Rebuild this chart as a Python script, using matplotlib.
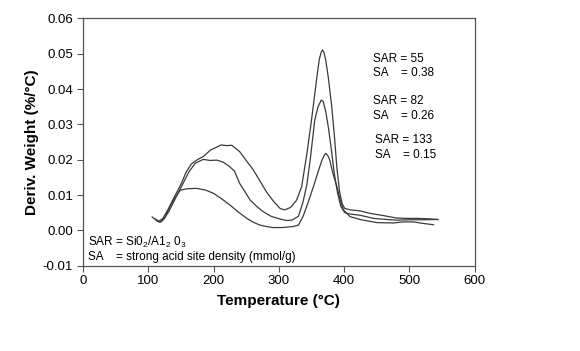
import numpy as np
import matplotlib
matplotlib.use('Agg')
import matplotlib.pyplot as plt

plt.rcParams['font.family'] = ['Liberation Sans', 'DejaVu Sans']
plt.rcParams['mathtext.fontset'] = 'custom'
plt.rcParams['mathtext.rm'] = 'Liberation Sans'
plt.rcParams['axes.unicode_minus'] = False

# SAR = 55 (tallest peak)
temp_55 = [106, 111, 116, 122, 130, 140, 150, 158, 166, 175, 185, 195, 205, 212, 220, 228,
           240, 250, 261, 271, 281, 292, 302, 309, 318, 327, 335, 343, 350, 358,
           362, 365, 367, 369, 372, 376, 381, 385, 389, 393, 397, 401, 410, 425, 440, 460,
           480, 495, 511, 527, 542]
deriv_55 = [0.0038, 0.0031, 0.0026, 0.0033, 0.0058, 0.0095, 0.0130, 0.0165, 0.0188, 0.0200,
            0.0210, 0.0227, 0.0236, 0.0242, 0.0240, 0.0241, 0.0223, 0.0198, 0.0171, 0.0140,
            0.0109, 0.0082, 0.0062, 0.0058, 0.0065, 0.0085, 0.0124, 0.0218, 0.0312, 0.0430,
            0.0485, 0.0505, 0.0511, 0.0505, 0.0480, 0.0430, 0.0350, 0.0270, 0.0175, 0.0110,
            0.0075, 0.0062, 0.0058, 0.0055, 0.0048, 0.0042, 0.0035, 0.0034, 0.0034, 0.0033,
            0.0031]

# SAR = 82
temp_82 = [110, 114, 118, 124, 132, 142, 152, 162, 172, 184, 195, 205, 215, 225, 232, 240,
           248, 256, 266, 276, 288, 302, 312, 320, 330, 337, 343, 348, 355, 360, 365,
           368, 372, 376, 380, 385, 390, 395, 401, 410, 424, 445, 465, 480, 500, 520, 544]
deriv_82 = [0.0033, 0.0026, 0.0024, 0.0032, 0.0055, 0.0092, 0.0128, 0.0165, 0.0190, 0.0201,
            0.0198, 0.0199, 0.0193, 0.0180, 0.0168, 0.0133, 0.0110, 0.0086, 0.0068, 0.0053,
            0.0040, 0.0032, 0.0028, 0.0029, 0.0040, 0.0080, 0.0130, 0.0199, 0.0312, 0.0350,
            0.0369, 0.0365, 0.0335, 0.0290, 0.0235, 0.0160, 0.0105, 0.0068, 0.0050, 0.0046,
            0.0043, 0.0034, 0.0031, 0.0029, 0.0030, 0.0030, 0.0031]

# SAR = 133 (smallest peak)
temp_133 = [113, 116, 120, 126, 135, 149, 160, 174, 188, 200, 212, 225, 238, 251, 261, 271,
            281, 291, 305, 322, 330, 337, 345, 353, 360, 366, 370, 372, 375, 378, 383, 389,
            394, 399, 409, 424, 450, 475, 490, 506, 520, 537]
deriv_133 = [0.0030, 0.0024, 0.0024, 0.0038, 0.0075, 0.0114, 0.0118, 0.0119, 0.0114, 0.0105,
             0.0090, 0.0072, 0.0052, 0.0034, 0.0023, 0.0015, 0.0011, 0.0008, 0.0008, 0.0011,
             0.0015, 0.0039, 0.0080, 0.0124, 0.0165, 0.0199, 0.0214, 0.0218, 0.0212, 0.0199,
             0.0160, 0.0124, 0.0085, 0.0058, 0.0039, 0.0031, 0.0022, 0.0021, 0.0024, 0.0024,
             0.0020, 0.0016]

x_ticks = [0, 100, 200, 300, 400, 500, 600]
y_ticks = [-0.01, 0.00, 0.01, 0.02, 0.03, 0.04, 0.05, 0.06]

fig = plt.figure(figsize=(5.8, 3.51), dpi=100)
ax = fig.add_axes([0.143, 0.243, 0.6755, 0.7043])

line_color = '#3a3a3a'
for t, d in [(temp_55, deriv_55), (temp_82, deriv_82), (temp_133, deriv_133)]:
    ax.plot(t, d, color=line_color, lw=0.9)

ax.set_xlim(0, 600)
ax.set_ylim(-0.01, 0.06)
ax.set_xticks(x_ticks)
ax.set_yticks(y_ticks)
ax.set_yticklabels(['%.2f' % v for v in y_ticks])
ax.tick_params(direction='out', length=4, width=0.8, colors='#555555',
               labelcolor='black', labelsize=9.5, pad=3)
for s in ax.spines.values():
    s.set_color('#555555')
    s.set_linewidth(0.9)

ax.set_xlabel('Temperature (°C)', fontsize=11, fontweight='bold', labelpad=5)
ax.set_ylabel('Deriv. Weight (%/°C)', fontsize=11, fontweight='bold', labelpad=3)

# annotations
fs = 8.5
ax.text(0.74, 0.835, 'SAR = 55', transform=ax.transAxes, fontsize=fs, va='center')
ax.text(0.74, 0.778, 'SA    = 0.38', transform=ax.transAxes, fontsize=fs, va='center')
ax.text(0.741, 0.666, 'SAR = 82', transform=ax.transAxes, fontsize=fs, va='center')
ax.text(0.741, 0.606, 'SA    = 0.26', transform=ax.transAxes, fontsize=fs, va='center')
ax.text(0.745, 0.509, 'SAR = 133', transform=ax.transAxes, fontsize=fs, va='center')
ax.text(0.745, 0.448, 'SA    = 0.15', transform=ax.transAxes, fontsize=fs, va='center')

ax.text(0.013, 0.094, 'SAR = Si0$_2$/A1$_2$ 0$_3$', transform=ax.transAxes, fontsize=fs, va='center')
ax.text(0.013, 0.034, 'SA    = strong acid site density (mmol/g)', transform=ax.transAxes,
        fontsize=fs, va='center')

fig.savefig('out.png', dpi=100)
